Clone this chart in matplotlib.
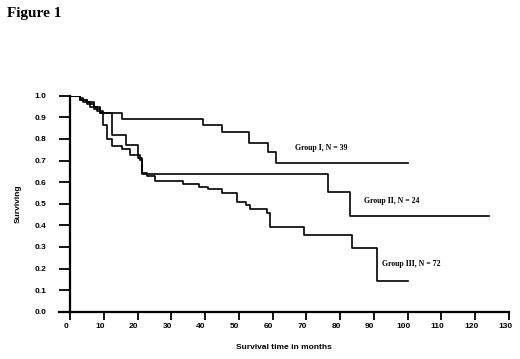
import matplotlib
matplotlib.use("Agg")
from matplotlib import pyplot as plt
from matplotlib.transforms import ScaledTranslation

# Kaplan-Meier steps (months, fraction surviving)
group1_t = [0, 3, 5, 7, 9, 15.5, 39.5, 45, 53, 58.6, 61, 100]
group1_s = [1.0, 0.98, 0.97, 0.95, 0.92, 0.89, 0.864, 0.83, 0.78, 0.74, 0.69, 0.69]

group2_t = [0, 3, 5, 7, 9, 12.3, 16.7, 20, 21.2, 76.3, 83, 124]
group2_s = [1.0, 0.98, 0.96, 0.94, 0.92, 0.82, 0.77, 0.71, 0.637, 0.556, 0.443, 0.443]

group3_t = [0, 3, 4, 6, 8, 9.9, 10.9, 12.3, 15.3, 17.7, 20.7, 21.4, 22.8, 25.1,
            33.5, 38.2, 40.9, 45.1, 49.5, 52.2, 53.4, 58.3, 59.1, 69.2, 83.4,
            90.9, 100]
group3_s = [1.0, 0.99, 0.97, 0.95, 0.93, 0.866, 0.80, 0.766, 0.755, 0.727, 0.704,
            0.642, 0.627, 0.604, 0.591, 0.576, 0.568, 0.548, 0.509, 0.494, 0.474,
            0.455, 0.394, 0.355, 0.293, 0.142, 0.142]

labels = ["Group I, N = 39", "Group II, N = 24", "Group III, N = 72"]
label_pos = [(66.7, 0.756), (87.1, 0.512), (92.4, 0.219)]

x_ticks = list(range(0, 131, 10))
y_ticks = [i / 10 for i in range(11)]

fig = plt.figure(figsize=(5.2, 3.59), dpi=100)
ax = fig.add_axes([59 / 520, 1 - 311.7 / 359, 450 / 520, 216 / 359])

for t, s in [(group1_t, group1_s), (group2_t, group2_s), (group3_t, group3_s)]:
    ax.step(t, s, where="post", color="black", lw=1.2)

for text, (x, y) in zip(labels, label_pos):
    ax.text(x, y, text, family="Liberation Serif", fontweight="bold",
            fontsize=5.6, va="center", ha="left")

ax.set_xlim(-3.25, 130)
ax.set_ylim(0, 1.0)
ax.spines["left"].set_position(("data", 0))
ax.spines["top"].set_visible(False)
ax.spines["right"].set_visible(False)
ax.spines["left"].set_linewidth(1.6)
ax.spines["bottom"].set_linewidth(1.6)

ax.set_xticks(x_ticks)
ax.set_yticks(y_ticks)
ax.set_yticklabels([f"{v:.1f}" for v in y_ticks])
ax.tick_params(axis="x", direction="out", length=6, width=1.3, pad=2)
ax.tick_params(axis="y", direction="out", length=8, width=1.3, pad=9)
for lab in ax.get_xticklabels() + ax.get_yticklabels():
    lab.set_family("Liberation Sans")
    lab.set_fontweight("bold")
    lab.set_fontsize(6)
shift = ScaledTranslation(-4 / 100, 0, fig.dpi_scale_trans)
for lab in ax.get_xticklabels():
    lab.set_transform(lab.get_transform() + shift)

ax.set_xlabel("Survival time in months", family="Liberation Sans",
              fontweight="bold", fontsize=6, labelpad=10)
ax.set_ylabel("Surviving", family="Liberation Sans", fontweight="bold",
              fontsize=6, labelpad=9)

fig.text(7 / 520, 1 - 13 / 359, "Figure 1", family="Liberation Serif",
         fontweight="bold", fontsize=11, va="center", ha="left")

fig.savefig("out.png", dpi=100)
